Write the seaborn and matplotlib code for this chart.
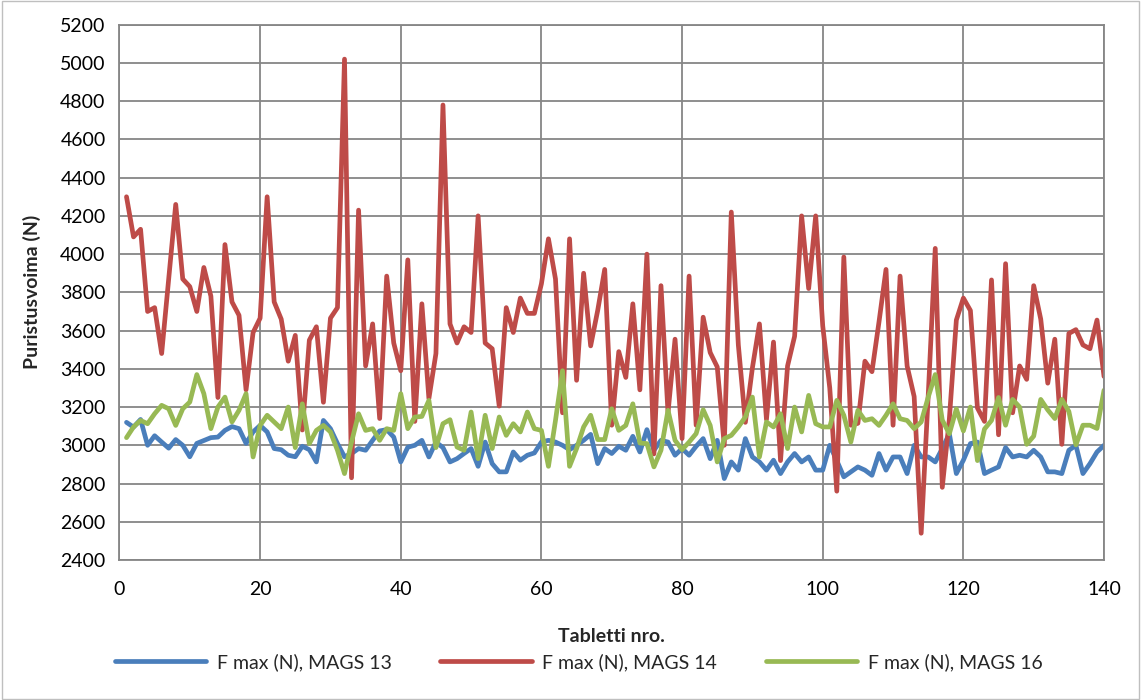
import numpy as np
import pandas as pd
import matplotlib
matplotlib.use("Agg")
import matplotlib.pyplot as plt
import seaborn as sns

# Tablet number and peak compression force for three batches
tablet_no = list(range(1, 141))

mags13 = [
    3120, 3095, 3135, 3000, 3050, 3017, 2985, 3030, 3000, 2940,
    3010, 3025, 3040, 3043, 3078, 3098, 3087, 3010, 3070, 3104,
    3070, 2983, 2977, 2948, 2940, 2995, 2977, 2913, 3130, 3087,
    3009, 2940, 2957, 2983, 2974, 3026, 3075, 3082, 3043, 2913,
    2990, 3000, 3026, 2939, 3017, 2988, 2913, 2930, 2957, 2983,
    2890, 3017, 2904, 2861, 2861, 2965, 2922, 2948, 2960, 3017,
    3026, 3017, 3000, 2977, 3000, 3026, 3057, 2904, 2983, 2957,
    2995, 2974, 3047, 2965, 3082, 2974, 3026, 3017, 2948, 2983,
    2948, 2995, 3035, 2930, 3026, 2826, 2913, 2870, 3035, 2939,
    2913, 2870, 2922, 2852, 2913, 2957, 2913, 2939, 2870, 2870,
    3000, 2920, 2835, 2861, 2887, 2870, 2843, 2957, 2870, 2939,
    2939, 2852, 3000, 2939, 2939, 2913, 2983, 3061, 2852, 2922,
    3009, 3017, 2852, 2870, 2887, 2988, 2939, 2948, 2939, 2974,
    2939, 2861, 2861, 2852, 2974, 3000, 2852, 2904, 2965, 3000,
]

mags14 = [
    4300, 4090, 4130, 3700, 3720, 3480, 3870, 4260, 3870, 3830,
    3700, 3930, 3780, 3250, 4050, 3750, 3680, 3290, 3590, 3665,
    4300, 3750, 3660, 3440, 3575, 3080, 3550, 3620, 3225, 3665,
    3720, 5020, 2830, 4230, 3415, 3635, 3140, 3885, 3535, 3390,
    3970, 3125, 3740, 3245, 3480, 4780, 3635, 3535, 3620, 3590,
    4200, 3535, 3505, 3205, 3720, 3590, 3770, 3690, 3690, 3845,
    4080, 3870, 3170, 4080, 3340, 3900, 3520, 3705, 3920, 3105,
    3490, 3355, 3740, 3290, 4000, 2955, 3835, 3170, 3555, 3035,
    3885, 3105, 3670, 3485, 3410, 3000, 4220, 3525, 3120, 3405,
    3635, 3135, 3540, 2920, 3415, 3570, 4200, 3820, 4200, 3625,
    3300, 2760, 3985, 3105, 3115, 3440, 3385, 3645, 3920, 3105,
    3885, 3415, 3255, 2540, 3260, 4030, 2780, 3135, 3655, 3770,
    3705, 3195, 3125, 3865, 3055, 3950, 3170, 3415, 3345, 3835,
    3660, 3325, 3555, 3005, 3585, 3605, 3525, 3505, 3655, 3360,
]

mags16 = [
    3040, 3096, 3130, 3113, 3165, 3209, 3191, 3104, 3191, 3226,
    3370, 3270, 3087, 3200, 3252, 3122, 3183, 3270, 2939, 3104,
    3157, 3122, 3087, 3200, 2988, 3217, 3009, 3078, 3104, 3070,
    2974, 2852, 3017, 3165, 3078, 3087, 3026, 3087, 3078, 3270,
    3087, 3148, 3151, 3235, 2988, 3113, 3134, 2991, 2974, 3174,
    2930, 3157, 2983, 3148, 3052, 3113, 3070, 3174, 3087, 3078,
    2890, 3130, 3390, 2890, 2983, 3096, 3157, 3030, 3030, 3191,
    3078, 3104, 3217, 3012, 3009, 2887, 2974, 3183, 3026, 2977,
    3017, 3061, 3186, 3104, 2913, 3035, 3052, 3096, 3148, 3252,
    2939, 3122, 3096, 3165, 2983, 3200, 3070, 3261, 3113, 3096,
    3096, 3235, 3157, 3017, 3183, 3130, 3139, 3104, 3157, 3217,
    3139, 3130, 3087, 3122, 3252, 3370, 3132, 3060, 3190, 3075,
    3200, 2920, 3085, 3130, 3250, 3105, 3240, 3200, 3005, 3048,
    3240, 3185, 3140, 3240, 3177, 3002, 3105, 3105, 3088, 3288,
]

series_names = ["F max (N), MAGS 13", "F max (N), MAGS 14", "F max (N), MAGS 16"]
series_colors = ["#4A7EBB", "#BE4B48", "#98B954"]

df = pd.concat(
    [
        pd.DataFrame({"Tabletti": tablet_no, "F": vals, "Sarja": name})
        for name, vals in zip(series_names, [mags13, mags14, mags16])
    ],
    ignore_index=True,
)

sns.set_theme(style="white")
plt.rcParams["font.family"] = ["Lato", "DejaVu Sans"]

fig = plt.figure(figsize=(11.41, 7.0), dpi=100)
ax = fig.add_axes([0.1047, 0.2, 0.8629, 0.7647])

sns.lineplot(
    data=df, x="Tabletti", y="F", hue="Sarja",
    palette=dict(zip(series_names, series_colors)),
    linewidth=3.4, ax=ax, legend=False,
)

grid_c = "#868686"
ax.set_xlim(0, 140)
ax.set_ylim(2400, 5200)
ax.set_xticks(range(0, 141, 20))
ax.set_yticks(range(2400, 5201, 200))
ax.grid(True, color=grid_c, linewidth=1.3)
ax.set_axisbelow(True)
for s in ax.spines.values():
    s.set_color(grid_c)
    s.set_linewidth(1.3)
ax.tick_params(axis="both", which="major", direction="out", length=5,
               width=1.3, color=grid_c, labelsize=14, labelcolor="black")
ax.tick_params(axis="x", pad=10)
ax.tick_params(axis="y", pad=5)

ax.set_xlabel("Tabletti nro.", fontsize=14, fontweight="bold", labelpad=22)
ax.set_ylabel("Puristusvoima (N)", fontsize=14, fontweight="bold", labelpad=14)

handles = [plt.Line2D([], [], color=c, linewidth=3.4) for c in series_colors]
fig.legend(handles, series_names, loc="center", bbox_to_anchor=(0.507, 0.054),
           ncol=3, frameon=False, fontsize=14, handlelength=4.7,
           handletextpad=0.55, columnspacing=2.5)

# thin frame around the whole chart area
fig.patches.append(plt.Rectangle((0.0015, 0.002), 0.997, 0.996, transform=fig.transFigure,
                                 fill=False, edgecolor="#BFBFBF", linewidth=1.0))

fig.savefig("out.png", dpi=100)
